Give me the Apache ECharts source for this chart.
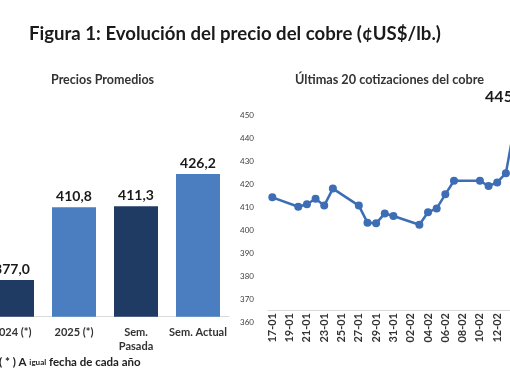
<!DOCTYPE html>
<html><head><meta charset="utf-8">
<script src="https://cdn.jsdelivr.net/npm/echarts@6/dist/echarts.min.js"></script>
<style>
html,body{margin:0;padding:0;width:510px;height:382px;overflow:hidden;background:#fff;}
#c{position:absolute;left:-40px;top:0;width:600px;height:382px;}
</style></head>
<body><div id="c"></div>
<script>
// Left chart: average prices
const barCategories = ['2024 (*)', '2025 (*)', 'Sem.\nPasada', 'Sem. Actual'];
const barValues = [377.0, 410.8, 411.3, 426.2];
// Right chart: daily axis labels and quotes
const days = ['17-01','18-01','19-01','20-01','21-01','22-01','23-01','24-01','25-01','26-01','27-01','28-01','29-01','30-01','31-01',
  '01-02','02-02','03-02','04-02','05-02','06-02','07-02','08-02','09-02','10-02','11-02','12-02','13-02','14-02'];
const quoteDates = ['17-01','20-01','21-01','22-01','23-01','24-01','27-01','28-01','29-01','30-01','31-01',
  '03-02','04-02','05-02','06-02','07-02','10-02','11-02','12-02','13-02','14-02'];
const quoteValues = [414.2, 410.1, 411.2, 413.6, 410.6, 418.0, 410.6, 403.2, 402.9, 407.2, 406.1,
  402.3, 407.7, 409.4, 415.5, 421.4, 421.4, 419.1, 420.7, 424.7, 445.3];
const yTicksMin = 360, yTicksMax = 450, yTickStep = 10;

const FONT = 'Lato, "Liberation Sans", sans-serif';
const dark = '#1F3A63', light = '#4A7EC1', lineCol = '#3D6DB5';
const fmt = v => v.toFixed(1).replace('.', ',');

const lineData = quoteDates.map((d, i) => {
  const item = { value: [d, quoteValues[i]] };
  if (i === quoteDates.length - 1) {
    item.label = { show: true, position: 'top', offset: [-9, -12], formatter: p => fmt(p.value[1]),
      fontFamily: FONT, fontWeight: 'bold', fontSize: 16, color: '#1a1a1a' };
  }
  return item;
});

const chart = echarts.init(document.getElementById('c'), null, { renderer: 'canvas' });
chart.setOption({
  animation: false,
  backgroundColor: '#fff',
  title: [
    { text: 'Figura 1: Evolución del precio del cobre (¢US$/lb.)', left: 64, top: 19,
      textStyle: { fontFamily: FONT, fontWeight: 'bold', fontSize: 18.6, color: '#1a1a1a' } },
    { text: 'Precios Promedios', left: 86, top: 68,
      textStyle: { fontFamily: FONT, fontWeight: 'bold', fontSize: 12.5, color: '#333' } },
    { text: 'Últimas 20 cotizaciones del cobre', left: 330, top: 68,
      textStyle: { fontFamily: FONT, fontWeight: 'bold', fontSize: 12.7, color: '#333' } }
  ],
  graphic: [{
    type: 'text', left: 39, top: 356,
    style: {
      text: '{a|( * ) A }{b|igual}{a| fecha de cada año}',
      rich: {
        a: { fontFamily: FONT, fontWeight: 'bold', fontSize: 11.5, fill: '#222' },
        b: { fontFamily: FONT, fontWeight: 'bold', fontSize: 8, fill: '#222' }
      }
    }
  }],
  grid: [
    { left: 21, width: 248, top: 144.3, height: 172.4 },
    { left: 308, width: 250.85, top: 115, height: 207 }
  ],
  xAxis: [
    { type: 'category', gridIndex: 0, data: barCategories,
      axisLine: { lineStyle: { color: '#d9d9d9' } }, axisTick: { show: false },
      axisLabel: { fontFamily: FONT, fontWeight: 'bold', fontSize: 11, color: '#333', margin: 9, lineHeight: 14, interval: 0 } },
    { type: 'category', gridIndex: 1, data: days, boundaryGap: true, offset: -12,
      axisLine: { lineStyle: { color: '#d9d9d9' } }, axisTick: { show: false },
      axisLabel: { rotate: 90, interval: 1, fontFamily: FONT, fontWeight: 'bold', fontSize: 11, color: '#333', margin: 3 } }
  ],
  yAxis: [
    { type: 'value', gridIndex: 0, min: 360, max: 440, show: false, splitLine: { show: false } },
    { type: 'value', gridIndex: 1, min: yTicksMin, max: yTicksMax, interval: yTickStep,
      axisLine: { show: false }, axisTick: { show: false }, splitLine: { show: false },
      axisLabel: { fontFamily: FONT, fontSize: 8, color: '#404040', margin: 14 } }
  ],
  series: [
    { type: 'bar', xAxisIndex: 0, yAxisIndex: 0, barWidth: 44,
      data: barValues.map((v, i) => ({ value: v, itemStyle: { color: i % 2 === 0 ? dark : light } })),
      label: { show: true, position: 'top', distance: 4, formatter: p => fmt(p.value),
        fontFamily: FONT, fontWeight: 'bold', fontSize: 14, color: '#1a1a1a' } },
    { type: 'line', xAxisIndex: 1, yAxisIndex: 1, data: lineData,
      symbol: 'circle', symbolSize: 8, showSymbol: true, showAllSymbol: true,
      lineStyle: { color: lineCol, width: 2.5 },
      itemStyle: { color: lineCol },
      labelLine: { show: true, lineStyle: { color: '#bfbfbf', width: 1.5 } } }
  ]
});
</script></body></html>
